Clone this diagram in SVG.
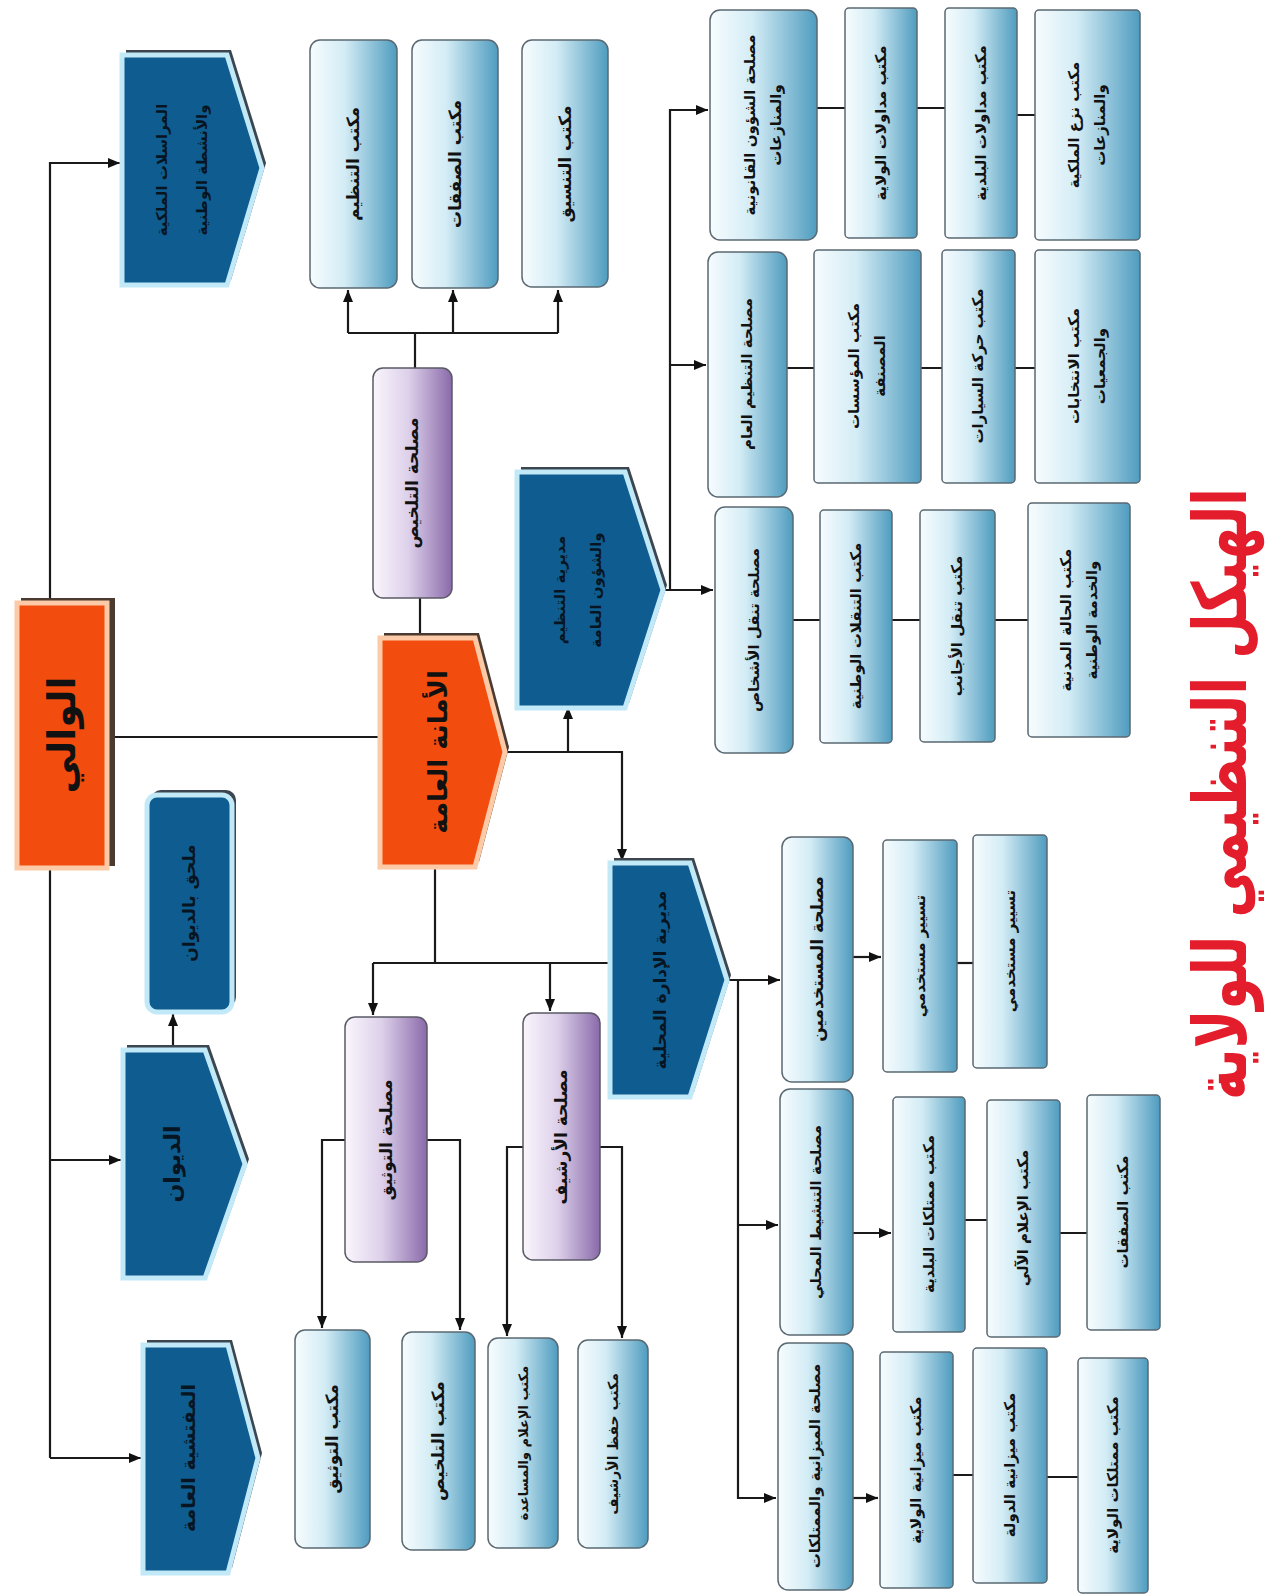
<svg xmlns="http://www.w3.org/2000/svg" width="1282" height="1596" viewBox="0 0 1282 1596">
<defs>
<linearGradient id="gB" x1="0" y1="0" x2="1" y2="0"><stop offset="0" stop-color="#f7fcfe"/><stop offset="0.4" stop-color="#d3ecf5"/><stop offset="1" stop-color="#4f9cbf"/></linearGradient>
<linearGradient id="gP" x1="0" y1="0" x2="1" y2="0"><stop offset="0" stop-color="#faf6fc"/><stop offset="0.45" stop-color="#ddd0ea"/><stop offset="1" stop-color="#8a6aaa"/></linearGradient>
<marker id="ar" markerUnits="userSpaceOnUse" markerWidth="12" markerHeight="10" refX="12" refY="5" orient="auto"><path d="M0,0 L12,5 L0,10 z" fill="#111"/></marker>
<style>
.bx{fill:url(#gB);stroke:#5a6872;stroke-width:1.5}
.pu{fill:url(#gP);stroke:#5a5a66;stroke-width:1.5}
.db{fill:#0f5d90;stroke:#c2e9f8;stroke-width:5;stroke-linejoin:miter}
.ds{fill:#3b4650}
.or{fill:#f24d0e;stroke:#fccaa6;stroke-width:5}
.os{fill:#4b3a30}
.t{font-family:"DejaVu Sans",sans-serif;font-weight:bold;font-size:17px;fill:#111;text-anchor:middle;dominant-baseline:central}
.s{font-size:15px}
.k{fill:#071522}
.c path{fill:none;stroke:#1a1a1a;stroke-width:2.2}
.c .a{marker-end:url(#ar)}
</style>
</defs>
<rect width="1282" height="1596" fill="#ffffff"/>

<g class="c" id="connectors">
<path class="a" d="M50,1458 V163 H120"/>
<path class="a" d="M50,1160 H121"/>
<path class="a" d="M50,1458 H141"/>
<path d="M107,737 H380"/>
<path class="a" d="M173,1050 V1014"/>
<path d="M420,638 V598"/>
<path d="M415,368 V333 M348,333 H558"/>
<path class="a" d="M348,333 V290"/>
<path class="a" d="M453,333 V290"/>
<path class="a" d="M558,333 V290"/>
<path class="a" d="M505,752 H622 V861"/>
<path class="a" d="M568,752 V707"/>
<path d="M435,867 V963 M373,963 H610"/>
<path class="a" d="M373,963 V1015"/>
<path class="a" d="M550,963 V1011"/>
<path class="a" d="M345,1140 H322 V1328"/>
<path class="a" d="M427,1140 H460 V1330"/>
<path class="a" d="M523,1147 H507 V1336"/>
<path class="a" d="M600,1147 H622 V1338"/>
<path class="a" d="M663,590 H713"/>
<path class="a" d="M670,590 V110 H708"/>
<path class="a" d="M670,365 H706"/>
<path class="a" d="M727,980 H780"/>
<path class="a" d="M738,980 V1498 H776"/>
<path class="a" d="M738,1225 H778"/>
<path d="M817,108 H845 M917,108 H945 M1017,115 H1035"/>
<path d="M787,368 H814 M921,368 H942 M1015,368 H1035"/>
<path d="M793,620 H820 M892,620 H920 M995,620 H1028"/>
<path class="a" d="M853,957 H881"/>
<path d="M957,963 H973"/>
<path class="a" d="M853,1233 H891"/>
<path d="M965,1220 H987 M1060,1233 H1087"/>
<path class="a" d="M853,1498 H878"/>
<path d="M953,1475 H973 M1047,1477 H1078"/>
</g>

<g id="n_wali">
<rect class="os" x="21" y="598" width="94" height="268"/>
<rect class="or" x="17" y="603" width="90" height="265"/>
<text class="t" style="font-size:38px" transform="translate(62,735) rotate(-90)">الوالي</text>
</g>
<g id="n_amana">
<polygon class="os" points="384,633 479,633 509,747 479,862 384,862"/>
<polygon class="or" points="380,638 475,638 505,752 475,867 380,867"/>
<text class="t" style="font-size:26px" transform="translate(438,752) rotate(-90)">الأمانة العامة</text>
</g>

<g id="n_murasalat">
<polygon class="ds" points="126,50 231,50 266,163 231,280 126,280"/>
<polygon class="db" points="122,55 227,55 262,168 227,285 122,285"/>
<text class="t s k" transform="translate(182,170) rotate(-90)"><tspan x="0" y="-20">المراسلات الملكية</tspan><tspan x="0" y="20">والأنشطة الوطنية</tspan></text>
</g>
<g id="n_mulhaq">
<rect class="ds" x="151" y="790" width="85" height="217" rx="10"/>
<rect class="db" x="147" y="795" width="85" height="217" rx="10"/>
<text class="t k" transform="translate(189,903) rotate(-90)">ملحق بالديوان</text>
</g>
<g id="n_diwan">
<polygon class="ds" points="127,1045 209,1045 249,1159 209,1273 127,1273"/>
<polygon class="db" points="123,1050 205,1050 245,1164 205,1278 123,1278"/>
<text class="t k" style="font-size:22px" transform="translate(172,1164) rotate(-90)">الديوان</text>
</g>
<g id="n_mufattishiya">
<polygon class="ds" points="147,1340 232,1340 262,1453 232,1568 147,1568"/>
<polygon class="db" points="143,1345 228,1345 258,1458 228,1573 143,1573"/>
<text class="t k" style="font-size:19px" transform="translate(188,1458) rotate(-90)">المفتشية العامة</text>
</g>
<g id="n_mudiriya_tanzim">
<polygon class="ds" points="521,467 629,467 667,585 629,703 521,703"/>
<polygon class="db" points="517,472 625,472 663,590 625,708 517,708"/>
<text class="t s k" transform="translate(578,590) rotate(-90)"><tspan x="0" y="-18">مديرية التنظيم</tspan><tspan x="0" y="18">والشؤون العامة</tspan></text>
</g>
<g id="n_mudiriya_idara">
<polygon class="ds" points="614,858 694,858 731,975 694,1092 614,1092"/>
<polygon class="db" points="610,863 690,863 727,980 690,1097 610,1097"/>
<text class="t k" transform="translate(660,980) rotate(-90)">مديرية الإدارة المحلية</text>
</g>

<g id="n_talkhis_s"><rect class="pu" x="373" y="368" width="79" height="230" rx="10"/><text class="t" transform="translate(412,483) rotate(-90)">مصلحة التلخيص</text></g>
<g id="n_tawthiq_s"><rect class="pu" x="345" y="1017" width="82" height="245" rx="10"/><text class="t" transform="translate(386,1140) rotate(-90)">مصلحة التوثيق</text></g>
<g id="n_arshif_s"><rect class="pu" x="523" y="1013" width="77" height="247" rx="10"/><text class="t" transform="translate(561,1137) rotate(-90)">مصلحة الأرشيف</text></g>

<g id="n_tanzim_office"><rect class="bx" x="310" y="40" width="87" height="248" rx="10"/><text class="t" transform="translate(353,164) rotate(-90)">مكتب التنظيم</text></g>
<g id="n_safaqat1"><rect class="bx" x="412" y="40" width="86" height="248" rx="10"/><text class="t" transform="translate(455,164) rotate(-90)">مكتب الصفقات</text></g>
<g id="n_tansiq"><rect class="bx" x="522" y="40" width="86" height="247" rx="10"/><text class="t" transform="translate(565,164) rotate(-90)">مكتب التنسيق</text></g>

<g id="n_qanun"><rect class="bx" x="710" y="10" width="107" height="230" rx="10"/><text class="t s" transform="translate(763,125) rotate(-90)"><tspan x="0" y="-13">مصلحة الشؤون القانونية</tspan><tspan x="0" y="13">والمنازعات</tspan></text></g>
<g id="n_mudawalat_w"><rect class="bx" x="845" y="8" width="72" height="230" rx="4"/><text class="t s" transform="translate(881,123) rotate(-90)">مكتب مداولات الولاية</text></g>
<g id="n_mudawalat_b"><rect class="bx" x="945" y="8" width="72" height="230" rx="4"/><text class="t s" transform="translate(981,123) rotate(-90)">مكتب مداولات البلدية</text></g>
<g id="n_naz"><rect class="bx" x="1035" y="10" width="105" height="230" rx="4"/><text class="t s" transform="translate(1087,125) rotate(-90)"><tspan x="0" y="-13">مكتب نزع الملكية</tspan><tspan x="0" y="13">والمنازعات</tspan></text></g>

<g id="n_tanzim_am"><rect class="bx" x="708" y="252" width="79" height="245" rx="10"/><text class="t s" transform="translate(747,374) rotate(-90)">مصلحة التنظيم العام</text></g>
<g id="n_muassasat"><rect class="bx" x="814" y="250" width="107" height="233" rx="4"/><text class="t s" transform="translate(867,366) rotate(-90)"><tspan x="0" y="-13">مكتب المؤسسات</tspan><tspan x="0" y="13">المصنفة</tspan></text></g>
<g id="n_haraka"><rect class="bx" x="942" y="250" width="73" height="233" rx="4"/><text class="t s" transform="translate(978,366) rotate(-90)">مكتب حركة السيارات</text></g>
<g id="n_intikhabat"><rect class="bx" x="1035" y="250" width="105" height="233" rx="4"/><text class="t s" transform="translate(1087,366) rotate(-90)"><tspan x="0" y="-13">مكتب الانتخابات</tspan><tspan x="0" y="13">والجمعيات</tspan></text></g>

<g id="n_tanaqul"><rect class="bx" x="715" y="507" width="78" height="246" rx="10"/><text class="t s" transform="translate(754,630) rotate(-90)">مصلحة تنقل الأشخاص</text></g>
<g id="n_tanaqulat"><rect class="bx" x="820" y="510" width="72" height="233" rx="4"/><text class="t s" transform="translate(856,626) rotate(-90)">مكتب التنقلات الوطنية</text></g>
<g id="n_ajanib"><rect class="bx" x="920" y="510" width="75" height="232" rx="4"/><text class="t s" transform="translate(957,626) rotate(-90)">مكتب تنقل الأجانب</text></g>
<g id="n_hala"><rect class="bx" x="1028" y="503" width="102" height="234" rx="4"/><text class="t s" transform="translate(1079,620) rotate(-90)"><tspan x="0" y="-13">مكتب الحالة المدنية</tspan><tspan x="0" y="13">والخدمة الوطنية</tspan></text></g>

<g id="n_mustakhdimin"><rect class="bx" x="782" y="837" width="71" height="245" rx="10"/><text class="t" transform="translate(817,959) rotate(-90)">مصلحة المستخدمين</text></g>
<g id="n_tasyir1"><rect class="bx" x="883" y="840" width="74" height="232" rx="4"/><text class="t s" transform="translate(920,956) rotate(-90)">تسيير مستخدمي</text></g>
<g id="n_tasyir2"><rect class="bx" x="973" y="835" width="74" height="233" rx="4"/><text class="t s" transform="translate(1010,951) rotate(-90)">تسيير مستخدمي</text></g>

<g id="n_tanshit"><rect class="bx" x="780" y="1089" width="73" height="246" rx="10"/><text class="t s" transform="translate(816,1212) rotate(-90)">مصلحة التنشيط المحلي</text></g>
<g id="n_mumtalakat_b"><rect class="bx" x="893" y="1097" width="72" height="235" rx="4"/><text class="t s" transform="translate(929,1214) rotate(-90)">مكتب ممتلكات البلدية</text></g>
<g id="n_ilam_ali"><rect class="bx" x="987" y="1100" width="73" height="237" rx="4"/><text class="t s" transform="translate(1023,1218) rotate(-90)">مكتب الإعلام الآلي</text></g>
<g id="n_safaqat2"><rect class="bx" x="1087" y="1095" width="73" height="235" rx="4"/><text class="t s" transform="translate(1123,1212) rotate(-90)">مكتب الصفقات</text></g>

<g id="n_mizaniya"><rect class="bx" x="778" y="1343" width="75" height="247" rx="10"/><text class="t s" transform="translate(815,1466) rotate(-90)">مصلحة الميزانية والممتلكات</text></g>
<g id="n_miz_w"><rect class="bx" x="880" y="1352" width="73" height="236" rx="4"/><text class="t s" transform="translate(916,1470) rotate(-90)">مكتب ميزانية الولاية</text></g>
<g id="n_miz_d"><rect class="bx" x="973" y="1348" width="74" height="235" rx="4"/><text class="t s" transform="translate(1010,1465) rotate(-90)">مكتب ميزانية الدولة</text></g>
<g id="n_mumt_w"><rect class="bx" x="1078" y="1358" width="70" height="235" rx="4"/><text class="t s" transform="translate(1113,1475) rotate(-90)">مكتب ممتلكات الولاية</text></g>

<g id="n_tawthiq_o"><rect class="bx" x="295" y="1330" width="75" height="218" rx="10"/><text class="t" transform="translate(332,1439) rotate(-90)">مكتب التوثيق</text></g>
<g id="n_talkhis_o"><rect class="bx" x="402" y="1332" width="73" height="218" rx="10"/><text class="t" transform="translate(438,1441) rotate(-90)">مكتب التلخيص</text></g>
<g id="n_ilam_mus"><rect class="bx" x="488" y="1338" width="70" height="210" rx="10"/><text class="t" style="font-size:13px" transform="translate(523,1443) rotate(-90)">مكتب الإعلام والمساعدة</text></g>
<g id="n_hifz"><rect class="bx" x="578" y="1340" width="70" height="208" rx="10"/><text class="t" style="font-size:14px" transform="translate(613,1444) rotate(-90)">مكتب حفظ الأرشيف</text></g>

<g id="title">
<text class="t" style="font-size:74px;fill:#e31d2b" transform="translate(1220,794) rotate(-90)" textLength="612" lengthAdjust="spacingAndGlyphs">الهيكل التنظيمي للولاية</text>
</g>
</svg>
